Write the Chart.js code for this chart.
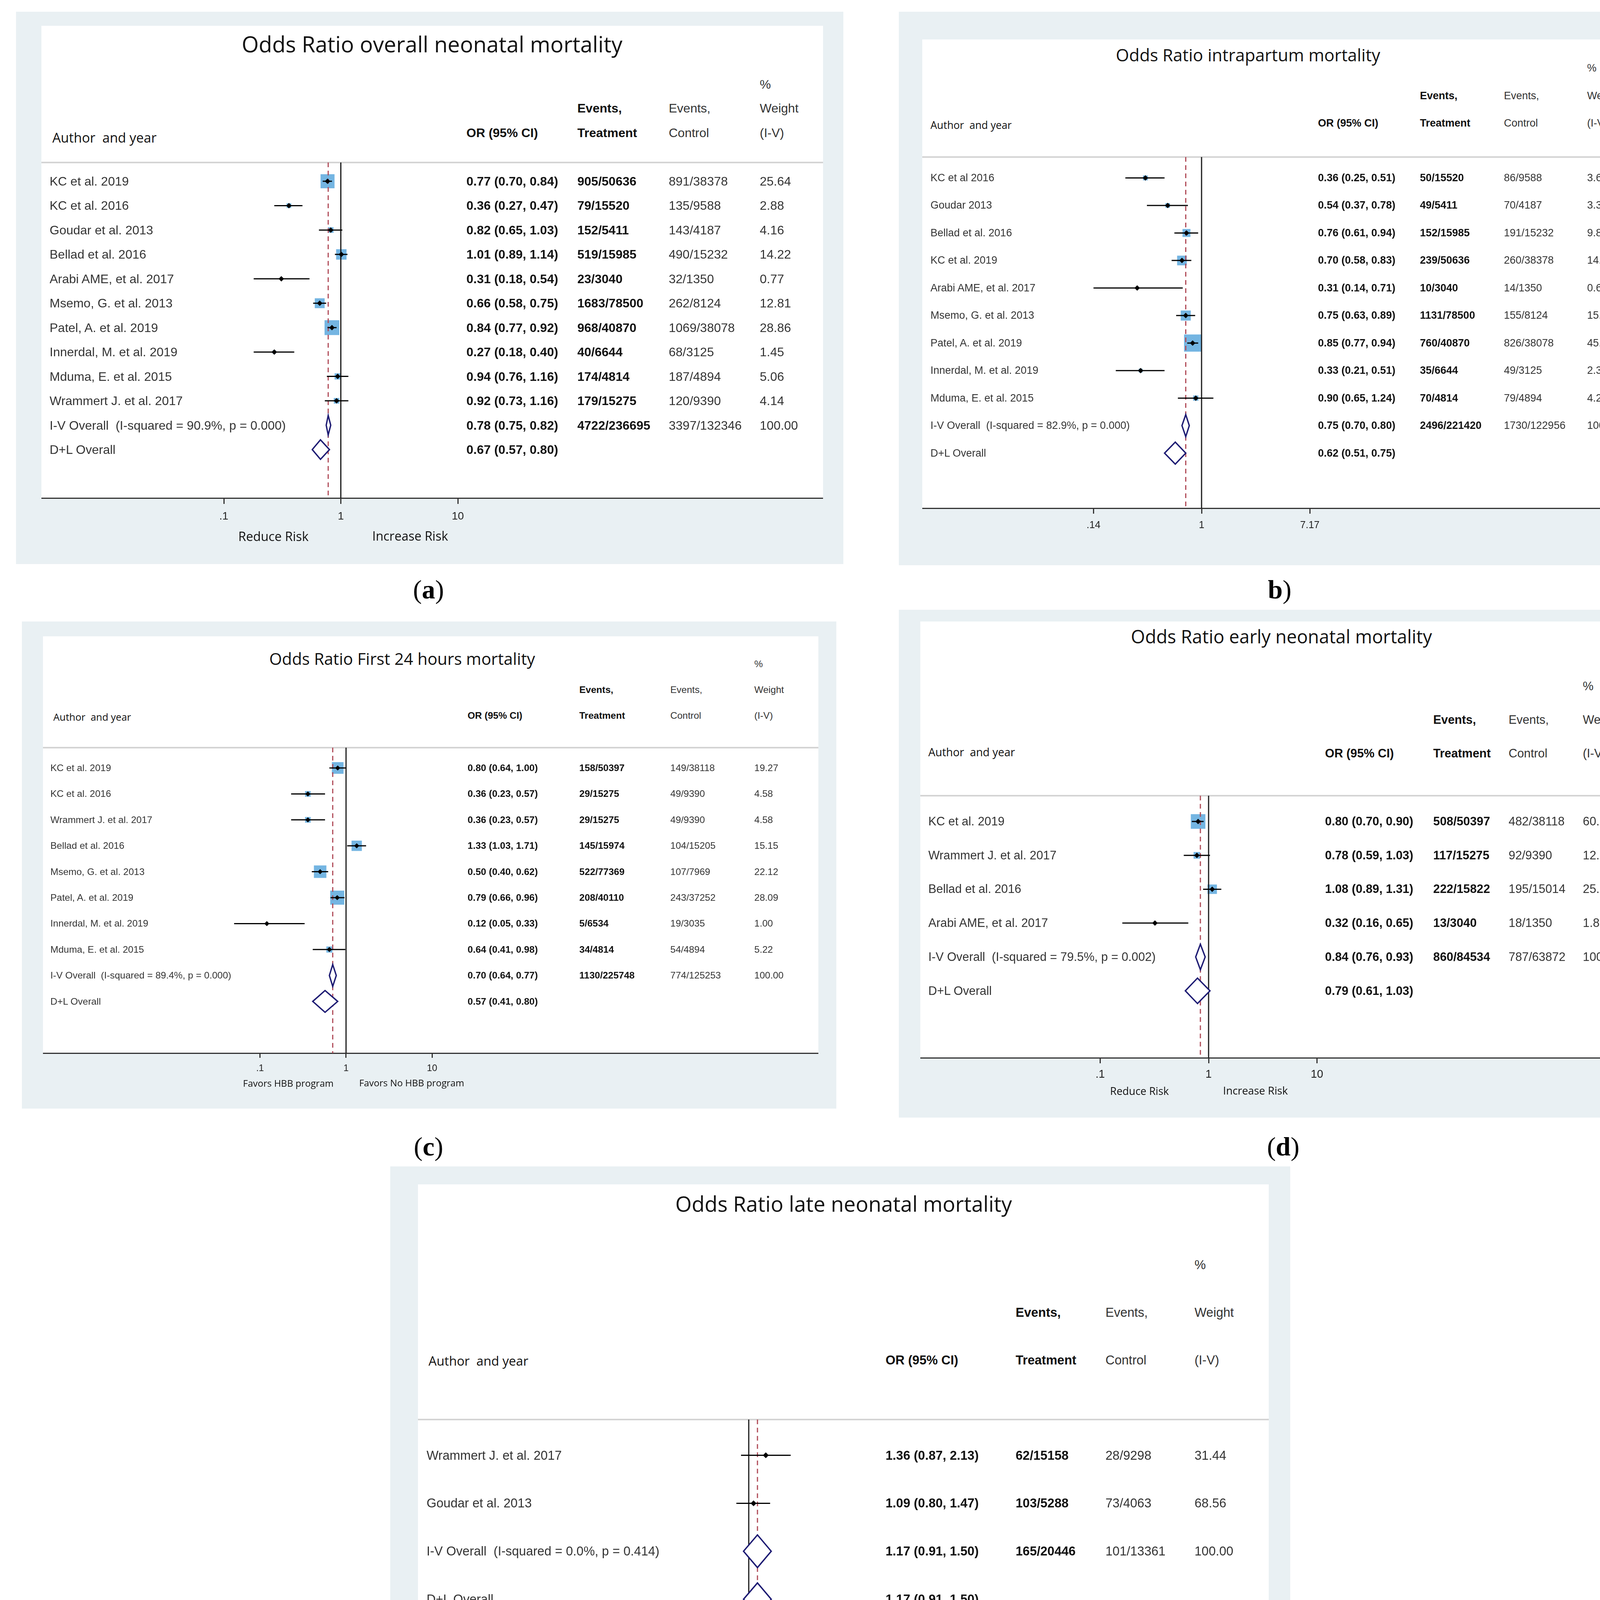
<!DOCTYPE html>
<html>
<head>
<meta charset="utf-8">
<script src="https://cdn.jsdelivr.net/npm/chart.js@4.4.1/dist/chart.umd.min.js"></script>
<style>
  html, body { margin: 0; padding: 0; background: #fff; }
  #page { position: relative; width: 4299px; height: 4644px; overflow: hidden; background: #fff; }
  .bg { position: absolute; background: #e9f0f3; }
  .white { position: absolute; background: #fff; }
  .rule { position: absolute; background: #d4d4d4; }
  canvas { position: absolute; }
  .t { position: absolute; white-space: pre; line-height: 1; font-family: "Liberation Sans", Arial, sans-serif; color: #333; transform: translateY(-50%); }
  .b { font-weight: bold; color: #111; }
  .cal { font-family: "Open Sans", sans-serif; color: #111; }
  .cap { position: absolute; font-family: "Liberation Serif", serif; font-size: 68px; line-height: 1; white-space: pre; transform: translate(-50%, -50%); color: #000; }
</style>
</head>
<body>
<div id="page"></div>
<script>
// (a) overall neonatal mortality
const aStudies = ["KC et al. 2019", "KC et al. 2016", "Goudar et al. 2013", "Bellad et al. 2016", "Arabi AME, et al. 2017",
  "Msemo, G. et al. 2013", "Patel, A. et al. 2019", "Innerdal, M. et al. 2019", "Mduma, E. et al. 2015", "Wrammert J. et al. 2017"];
const aOR = [0.77, 0.36, 0.82, 1.01, 0.31, 0.66, 0.84, 0.27, 0.94, 0.92];
const aLow = [0.70, 0.27, 0.65, 0.89, 0.18, 0.58, 0.77, 0.18, 0.76, 0.73];
const aHigh = [0.84, 0.47, 1.03, 1.14, 0.54, 0.75, 0.92, 0.40, 1.16, 1.16];
const aTreat = ["905/50636", "79/15520", "152/5411", "519/15985", "23/3040", "1683/78500", "968/40870", "40/6644", "174/4814", "179/15275"];
const aControl = ["891/38378", "135/9588", "143/4187", "490/15232", "32/1350", "262/8124", "1069/38078", "68/3125", "187/4894", "120/9390"];
const aWeight = [25.64, 2.88, 4.16, 14.22, 0.77, 12.81, 28.86, 1.45, 5.06, 4.14];
const aPooledLabel = ["I-V Overall  (I-squared = 90.9%, p = 0.000)", "D+L Overall"];
const aPooledOR = [0.78, 0.67];
const aPooledLow = [0.75, 0.57];
const aPooledHigh = [0.82, 0.80];
const aPooledTreat = ["4722/236695"];
const aPooledControl = ["3397/132346"];
const aTicks = [0.1, 1, 10];
const aTickLabels = [".1", "1", "10"];

// (b) intrapartum mortality
const bStudies = ["KC et al 2016", "Goudar 2013", "Bellad et al. 2016", "KC et al. 2019", "Arabi AME, et al. 2017",
  "Msemo, G. et al. 2013", "Patel, A. et al. 2019", "Innerdal, M. et al. 2019", "Mduma, E. et al. 2015"];
const bOR = [0.36, 0.54, 0.76, 0.70, 0.31, 0.75, 0.85, 0.33, 0.90];
const bLow = [0.25, 0.37, 0.61, 0.58, 0.14, 0.63, 0.77, 0.21, 0.65];
const bHigh = [0.51, 0.78, 0.94, 0.83, 0.71, 0.89, 0.94, 0.51, 1.24];
const bTreat = ["50/15520", "49/5411", "152/15985", "239/50636", "10/3040", "1131/78500", "760/40870", "35/6644", "70/4814"];
const bControl = ["86/9588", "70/4187", "191/15232", "260/38378", "14/1350", "155/8124", "826/38078", "49/3125", "79/4894"];
const bWeight = [3.69, 3.34, 9.83, 14.54, 0.68, 15.71, 45.54, 2.37, 4.29];
const bPooledLabel = ["I-V Overall  (I-squared = 82.9%, p = 0.000)", "D+L Overall"];
const bPooledOR = [0.75, 0.62];
const bPooledLow = [0.70, 0.51];
const bPooledHigh = [0.80, 0.75];
const bPooledTreat = ["2496/221420"];
const bPooledControl = ["1730/122956"];
const bTicks = [0.14, 1, 7.17];
const bTickLabels = [".14", "1", "7.17"];

// (c) first 24 hours mortality
const cStudies = ["KC et al. 2019", "KC et al. 2016", "Wrammert J. et al. 2017", "Bellad et al. 2016", "Msemo, G. et al. 2013",
  "Patel, A. et al. 2019", "Innerdal, M. et al. 2019", "Mduma, E. et al. 2015"];
const cOR = [0.80, 0.36, 0.36, 1.33, 0.50, 0.79, 0.12, 0.64];
const cLow = [0.64, 0.23, 0.23, 1.03, 0.40, 0.66, 0.05, 0.41];
const cHigh = [1.00, 0.57, 0.57, 1.71, 0.62, 0.96, 0.33, 0.98];
const cTreat = ["158/50397", "29/15275", "29/15275", "145/15974", "522/77369", "208/40110", "5/6534", "34/4814"];
const cControl = ["149/38118", "49/9390", "49/9390", "104/15205", "107/7969", "243/37252", "19/3035", "54/4894"];
const cWeight = [19.27, 4.58, 4.58, 15.15, 22.12, 28.09, 1.00, 5.22];
const cPooledLabel = ["I-V Overall  (I-squared = 89.4%, p = 0.000)", "D+L Overall"];
const cPooledOR = [0.70, 0.57];
const cPooledLow = [0.64, 0.41];
const cPooledHigh = [0.77, 0.80];
const cPooledTreat = ["1130/225748"];
const cPooledControl = ["774/125253"];
const cTicks = [0.1, 1, 10];
const cTickLabels = [".1", "1", "10"];

// (d) early neonatal mortality
const dStudies = ["KC et al. 2019", "Wrammert J. et al. 2017", "Bellad et al. 2016", "Arabi AME, et al. 2017"];
const dOR = [0.80, 0.78, 1.08, 0.32];
const dLow = [0.70, 0.59, 0.89, 0.16];
const dHigh = [0.90, 1.03, 1.31, 0.65];
const dTreat = ["508/50397", "117/15275", "222/15822", "13/3040"];
const dControl = ["482/38118", "92/9390", "195/15014", "18/1350"];
const dWeight = [60.30, 12.59, 25.26, 1.85];
const dPooledLabel = ["I-V Overall  (I-squared = 79.5%, p = 0.002)", "D+L Overall"];
const dPooledOR = [0.84, 0.79];
const dPooledLow = [0.76, 0.61];
const dPooledHigh = [0.93, 1.03];
const dPooledTreat = ["860/84534"];
const dPooledControl = ["787/63872"];
const dTicks = [0.1, 1, 10];
const dTickLabels = [".1", "1", "10"];

// (e) late neonatal mortality
const eStudies = ["Wrammert J. et al. 2017", "Goudar et al. 2013"];
const eOR = [1.36, 1.09];
const eLow = [0.87, 0.80];
const eHigh = [2.13, 1.47];
const eTreat = ["62/15158", "103/5288"];
const eControl = ["28/9298", "73/4063"];
const eWeight = [31.44, 68.56];
const ePooledLabel = ["I-V Overall  (I-squared = 0.0%, p = 0.414)", "D+L Overall"];
const ePooledOR = [1.17, 1.17];
const ePooledLow = [0.91, 0.91];
const ePooledHigh = [1.50, 1.50];
const ePooledTreat = ["165/20446"];
const ePooledControl = ["101/13361"];
const eTicks = [0.1, 1, 10];
const eTickLabels = [".1", "1", "10"];

const totalWeight = 100;

// layout of each panel (page pixels)
const panels = [
  { title: "Odds Ratio overall neonatal mortality", caption: "(<b>a</b>)", capPos: [1097, 1509],
    studies: aStudies, or: aOR, low: aLow, high: aHigh, treat: aTreat, control: aControl, weight: aWeight,
    pLabel: aPooledLabel, pOR: aPooledOR, pLow: aPooledLow, pHigh: aPooledHigh, pTreat: aPooledTreat, pControl: aPooledControl,
    ticks: aTicks, tickLabels: aTickLabels,
    outer: [41, 30, 2159, 1444], white: [106, 66, 2107, 1275], sep: 416, row0: 464, dy: 62.45,
    one: 872.5, ppd: 299.5, fs: 32, labelX: 127, cols: [1194, 1478, 1712, 1945], hdrY: [216, 277, 340],
    author: [134, 352, 267], titleBox: [1106, 112, 975],
    tickFs: 28, tickLen: 15, tickPad: 15, boxK: 7.07, diaH: 0.4, ptR: 7,
    risk: [["Reduce Risk", 700, 1372, 180], ["Increase Risk", 1050, 1372, 194]] },
  { title: "Odds Ratio intrapartum mortality", caption: "<b>b</b>)", capPos: [3276, 1509],
    studies: bStudies, or: bOR, low: bLow, high: bHigh, treat: bTreat, control: bControl, weight: bWeight,
    pLabel: bPooledLabel, pOR: bPooledOR, pLow: bPooledLow, pHigh: bPooledHigh, pTreat: bPooledTreat, pControl: bPooledControl,
    ticks: bTicks, tickLabels: bTickLabels,
    outer: [2301, 30, 4264, 1447], white: [2361, 101, 4210, 1301], sep: 401.5, row0: 455, dy: 70.5,
    one: 3076, ppd: 324, fs: 27, labelX: 2382, cols: [3374, 3635, 3850, 4063], hdrY: [174, 245, 315],
    author: [2382, 320, 208], titleBox: [3195, 141, 677],
    tickFs: 25.6, tickLen: 14, tickPad: 14.6, boxK: 6.5, diaH: 0.4, ptR: 7,
    risk: [] },
  { title: "Odds Ratio First 24 hours mortality", caption: "(<b>c</b>)", capPos: [1097, 2935],
    studies: cStudies, or: cOR, low: cLow, high: cHigh, treat: cTreat, control: cControl, weight: cWeight,
    pLabel: cPooledLabel, pOR: cPooledOR, pLow: cPooledLow, pHigh: cPooledHigh, pTreat: cPooledTreat, pControl: cPooledControl,
    ticks: cTicks, tickLabels: cTickLabels,
    outer: [56, 1591, 2141, 2838], white: [110, 1629, 2095, 2696], sep: 1914, row0: 1966, dy: 66.4,
    one: 881.7, ppd: 221, fs: 24.5, labelX: 129, cols: [1197, 1483, 1716, 1931], hdrY: [1700, 1766, 1832],
    author: [136.5, 1836, 199], titleBox: [1029.5, 1686, 681],
    tickFs: 24, tickLen: 12, tickPad: 12.6, boxK: 6.8, diaH: 0.42, ptR: 6.5,
    risk: [["Favors HBB program", 738, 2773, 232], ["Favors No HBB program", 1054, 2773, 269]] },
  { title: "Odds Ratio early neonatal mortality", caption: "(<b>d</b>)", capPos: [3285, 2935],
    studies: dStudies, or: dOR, low: dLow, high: dHigh, treat: dTreat, control: dControl, weight: dWeight,
    pLabel: dPooledLabel, pOR: dPooledOR, pLow: dPooledLow, pHigh: dPooledHigh, pTreat: dPooledTreat, pControl: dPooledControl,
    ticks: dTicks, tickLabels: dTickLabels,
    outer: [2301, 1561, 4261, 2861], white: [2356, 1591, 4209, 2708], sep: 2037, row0: 2103, dy: 86.7,
    one: 3094, ppd: 277.5, fs: 30.8, labelX: 2376.5, cols: [3392, 3669, 3862, 4052], hdrY: [1757, 1843, 1929],
    author: [2376.5, 1925, 222], titleBox: [3280.5, 1629, 771],
    tickFs: 28.6, tickLen: 14, tickPad: 11.8, boxK: 4.8, diaH: 0.376, ptR: 7,
    risk: [["Reduce Risk", 2917, 2792, 150.5], ["Increase Risk", 3214, 2792, 166]] },
  { title: "Odds Ratio late neonatal mortality", caption: "(<b>e</b>)", capPos: [2153, 4587],
    studies: eStudies, or: eOR, low: eLow, high: eHigh, treat: eTreat, control: eControl, weight: eWeight,
    pLabel: ePooledLabel, pOR: ePooledOR, pLow: ePooledLow, pHigh: ePooledHigh, pTreat: ePooledTreat, pControl: ePooledControl,
    ticks: eTicks, tickLabels: eTickLabels,
    outer: [999, 2986, 3303, 4517], white: [1070, 3032, 3248, 4338.5], sep: 3634, row0: 3725.6, dy: 122.8,
    one: 1916.8, ppd: 327, fs: 32.5, labelX: 1092, cols: [2267, 2600, 2830, 3058], hdrY: [3237.5, 3360, 3482],
    author: [1097, 3484, 255.6], titleBox: [2159.7, 3081, 862],
    tickFs: 30.6, tickLen: 15, tickPad: 15.6, boxK: 0, diaH: 0.34, ptR: 7.5,
    risk: [["Reduce Risk", 1769, 4431, 173], ["Increase Risk", 2108, 4431, 190]] }
];

const page = document.getElementById("page");

function rect(cls, x0, y0, x1, y1) {
  const d = document.createElement("div");
  d.className = cls;
  d.style.left = x0 + "px";
  d.style.top = y0 + "px";
  d.style.width = (x1 - x0) + "px";
  d.style.height = (y1 - y0) + "px";
  page.appendChild(d);
  return d;
}

function addText(txt, x, y, fs, cls) {
  const d = document.createElement("div");
  d.className = "t " + (cls || "");
  d.textContent = txt;
  d.style.left = x + "px";
  d.style.top = y + "px";
  d.style.fontSize = fs + "px";
  page.appendChild(d);
  return d;
}

// scale font so the text gets a given width
function fitWidth(el, w) {
  const cur = el.getBoundingClientRect().width;
  el.style.fontSize = (parseFloat(el.style.fontSize) * w / cur) + "px";
}
function centerAt(el, cx) {
  el.style.left = (cx - el.getBoundingClientRect().width / 2) + "px";
}

function orText(v, lo, hi) {
  return v.toFixed(2) + " (" + lo.toFixed(2) + ", " + hi.toFixed(2) + ")";
}

function line(data, color, width, extra) {
  return Object.assign({ data: data, showLine: true, borderColor: color, borderWidth: width,
    pointRadius: 0, fill: false }, extra);
}

function drawPanel(p) {
  rect("bg", p.outer[0], p.outer[1], p.outer[2], p.outer[3]);
  rect("white", p.white[0], p.white[1], p.white[2], p.white[3]);
  rect("rule", p.white[0], p.sep - 2, p.white[2], p.sep + 2);

  const W = p.white[2] - p.white[0];
  const H = p.outer[3] - p.sep;
  const axisH = p.outer[3] - p.white[3];
  const cv = document.createElement("canvas");
  cv.width = W;
  cv.height = H;
  cv.style.left = p.white[0] + "px";
  cv.style.top = p.sep + "px";
  cv.style.width = W + "px";
  cv.style.height = H + "px";
  page.appendChild(cv);

  const n = p.studies.length;
  const yMin = (p.sep - p.row0) / p.dy;
  const yMax = (p.white[3] - p.row0) / p.dy;
  const xMin = Math.pow(10, (p.white[0] - p.one) / p.ppd);
  const xMax = Math.pow(10, (p.white[2] - p.one) / p.ppd);

  const pts = p.or.map((v, i) => ({ x: v, y: i }));
  const datasets = [];
  // weight boxes
  datasets.push({ data: pts, pointStyle: "rect",
    pointRadius: p.weight.map(w => p.boxK * Math.sqrt(w) / Math.SQRT2),
    pointBackgroundColor: "#74b5e2", pointBorderWidth: 0, order: 6 });
  // no effect line and pooled estimate line
  datasets.push(line([{ x: 1, y: yMin }, { x: 1, y: yMax }], "#1a1a1a", 3, { order: 5 }));
  datasets.push(line([{ x: p.pOR[0], y: yMin }, { x: p.pOR[0], y: yMax }], "#b04b58", 3,
    { borderDash: [12, 9], order: 4 }));
  // confidence intervals
  p.or.forEach((v, i) => {
    datasets.push(line([{ x: p.low[i], y: i }, { x: p.high[i], y: i }], "#000", 3, { order: 3 }));
  });
  // pooled diamonds
  p.pOR.forEach((v, j) => {
    const y = n + j, h = p.diaH;
    datasets.push(line([{ x: p.pLow[j], y: y }, { x: v, y: y - h }, { x: p.pHigh[j], y: y },
      { x: v, y: y + h }, { x: p.pLow[j], y: y }, { x: v, y: y - h }], "#1d1b73", 3.5,
      { fill: "shape", backgroundColor: "#fff", order: 2 }));
  });
  // point estimates
  datasets.push({ data: pts, pointStyle: "rectRot", pointRadius: p.ptR,
    pointBackgroundColor: "#000", pointBorderWidth: 0, order: 1 });

  const chart = new Chart(cv, {
    type: "scatter",
    data: { datasets: datasets },
    options: {
      responsive: false,
      animation: false,
      events: [],
      devicePixelRatio: 1,
      layout: { padding: 0, autoPadding: false },
      plugins: { legend: { display: false }, tooltip: { enabled: false } },
      scales: {
        x: {
          type: "logarithmic", position: "bottom", min: xMin, max: xMax,
          afterBuildTicks: s => { s.ticks = p.ticks.map(v => ({ value: v })); },
          afterFit: s => { s.height = axisH; },
          ticks: {
            callback: (v, i) => p.tickLabels[i],
            font: { family: "Liberation Sans", size: p.tickFs },
            color: "#222", padding: p.tickPad, maxRotation: 0, autoSkip: false
          },
          grid: { display: true, drawOnChartArea: false, drawTicks: true, tickLength: p.tickLen,
            color: "#333", lineWidth: 3 },
          border: { display: true, color: "#333", width: 3 }
        },
        y: { type: "linear", display: false, reverse: true, min: yMin, max: yMax }
      }
    }
  });

  const ys = chart.scales.y;
  const rowY = i => p.sep + ys.getPixelForValue(i);

  // title and headers
  const t = addText(p.title, 0, p.titleBox[1], 50, "cal");
  fitWidth(t, p.titleBox[2]);
  centerAt(t, p.titleBox[0]);
  const a = addText("Author  and year", p.author[0], p.author[1], 30, "cal");
  fitWidth(a, p.author[2]);
  addText("OR (95% CI)", p.cols[0], p.hdrY[2], p.fs, "b");
  addText("Events,", p.cols[1], p.hdrY[1], p.fs, "b");
  addText("Treatment", p.cols[1], p.hdrY[2], p.fs, "b");
  addText("Events,", p.cols[2], p.hdrY[1], p.fs);
  addText("Control", p.cols[2], p.hdrY[2], p.fs);
  addText("%", p.cols[3], p.hdrY[0], p.fs);
  addText("Weight", p.cols[3], p.hdrY[1], p.fs);
  addText("(I-V)", p.cols[3], p.hdrY[2], p.fs);

  // study rows
  p.studies.forEach((s, i) => {
    const y = rowY(i);
    addText(s, p.labelX, y, p.fs);
    addText(orText(p.or[i], p.low[i], p.high[i]), p.cols[0], y, p.fs, "b");
    addText(p.treat[i], p.cols[1], y, p.fs, "b");
    addText(p.control[i], p.cols[2], y, p.fs);
    addText(p.weight[i].toFixed(2), p.cols[3], y, p.fs);
  });
  // pooled rows
  p.pOR.forEach((v, j) => {
    const y = rowY(n + j);
    addText(p.pLabel[j], p.labelX, y, p.fs);
    addText(orText(v, p.pLow[j], p.pHigh[j]), p.cols[0], y, p.fs, "b");
    if (j === 0) {
      addText(p.pTreat[0], p.cols[1], y, p.fs, "b");
      addText(p.pControl[0], p.cols[2], y, p.fs);
      addText(totalWeight.toFixed(2), p.cols[3], y, p.fs);
    }
  });

  // direction labels under the axis
  p.risk.forEach(r => {
    const el = addText(r[0], 0, r[2], 30, "cal");
    fitWidth(el, r[3]);
    centerAt(el, r[1]);
  });

  const cap = document.createElement("div");
  cap.className = "cap";
  cap.innerHTML = p.caption;
  cap.style.left = p.capPos[0] + "px";
  cap.style.top = p.capPos[1] + "px";
  page.appendChild(cap);
}

panels.forEach(drawPanel);
</script>
</body>
</html>
